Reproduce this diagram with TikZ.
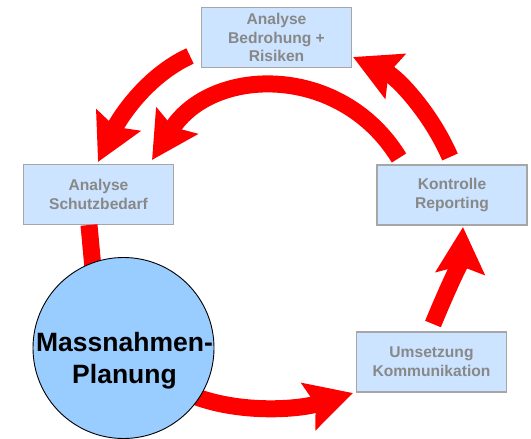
\documentclass[tikz,border=0pt]{standalone}
\usepackage{fontspec}
\setmainfont{Liberation Sans}
\usetikzlibrary{arrows.meta}
\definecolor{boxfill}{RGB}{204,228,255}
\definecolor{boxline}{RGB}{166,166,166}
\definecolor{boxtext}{RGB}{136,136,136}
\definecolor{discfill}{RGB}{153,204,255}
\definecolor{flowred}{RGB}{255,0,0}
\begin{document}
\begin{tikzpicture}[x=1pt,y=-1pt,
  stagebox/.style={rectangle, draw=boxline, fill=boxfill, line width=1.3pt,
    minimum width=150pt, minimum height=60pt, inner sep=0pt, align=center,
    text=boxtext, font=\fontsize{15.6}{18.7}\selectfont\bfseries},
  disc/.style={circle, draw=black, fill=discfill, line width=0.9pt,
    minimum size=181pt, inner sep=0pt},
  disctext/.style={align=center, inner sep=0pt,
    font=\fontsize{26.5}{31.6}\selectfont\bfseries},
  flow/.style={draw=flowred, line width=17pt,
    -{Stealth[length=46pt,width=48pt,inset=7pt]}},
  flowplain/.style={draw=flowred, line width=17pt}
]
\useasboundingbox (0,0) rectangle (531,439);

% the four stages of the cycle
\node[stagebox] (risk)    at (276.5,37.5) {Analyse\\Bedrohung +\\Risiken};
\node[stagebox] (schutz)  at (98.5,194.5) {Analyse\\Schutzbedarf};
\node[stagebox] (control) at (452,195)    {Kontrolle\\Reporting};
\node[stagebox] (umsetz)  at (431.5,362)  {Umsetzung\\Kommunikation};

% end points of the red cycle arrows
\coordinate (a1s) at (190,56);   \coordinate (a1e) at (98,162);
\coordinate (a2s) at (399,158);  \coordinate (a2e) at (152,160);
\coordinate (a3s) at (450,157);  \coordinate (a3e) at (353,57);
\coordinate (a4s) at (433,324);  \coordinate (a4e) at (463,227);
\coordinate (a5s) at (180,390);  \coordinate (a5e) at (353,393);
\coordinate (a6s) at (89,225);   \coordinate (a6e) at (95,290);

\draw[flow] (a1s) .. controls (146,76) and (119,119) .. (a1e);
\draw[flow] (a2s) .. controls (341,63) and (212,66) .. (a2e);
\draw[flow] (a3s) .. controls (431,113) and (397,77) .. (a3e);
\draw[flow] (a4s) .. controls (447,290) and (461,260) .. (a4e);
\draw[flow] (a5s) .. controls (230,415) and (297,410) .. (a5e);
\draw[flowplain] (a6s) -- (a6e);

% central planning disc, drawn over the arrow ends
\node[disc] (plan) at (123.5,348) {};
\node[disctext] (plantext) at (124.5,360.5) {Massnahmen-\\Planung};
\end{tikzpicture}
\end{document}
